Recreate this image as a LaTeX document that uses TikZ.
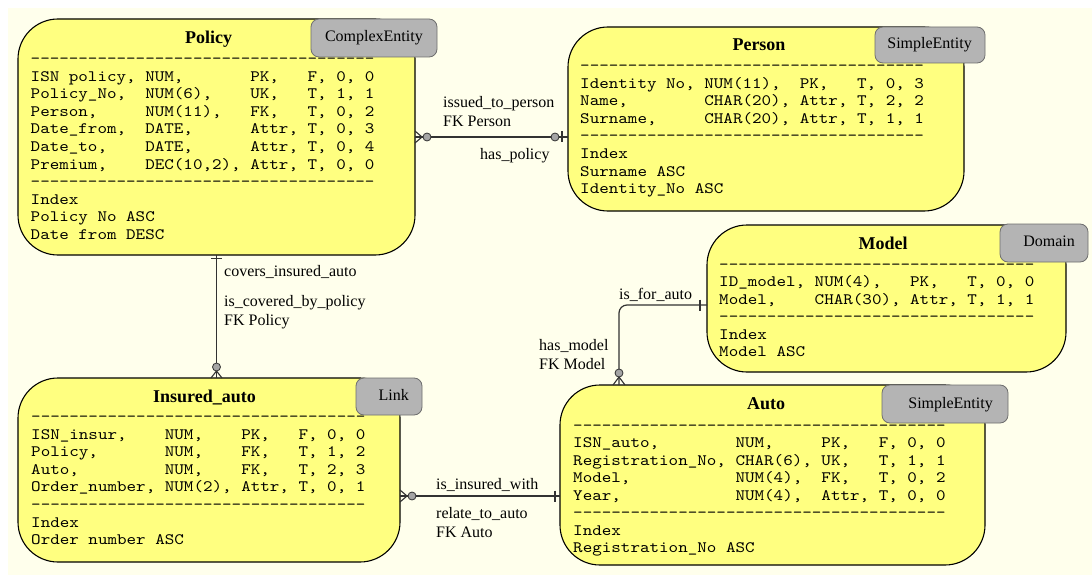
\documentclass[tikz,border=0pt]{standalone}
\usepackage{fontspec}
\setmainfont{Liberation Serif}
\newfontfamily\monof{lmmono10-regular.otf}[FakeStretch=1.144]
\definecolor{bgc}{RGB}{255,255,236}
\definecolor{boxc}{RGB}{255,255,128}
\definecolor{tagc}{RGB}{180,180,180}
\definecolor{tagb}{RGB}{110,110,110}
\definecolor{linec}{RGB}{50,50,50}
\definecolor{dotc}{RGB}{165,165,165}
\newcommand\dashrow[1]{\foreach\k in {1,...,#1}{-\kern0pt}}
\begin{document}
\begin{tikzpicture}[x=1pt,y=-1pt,
 entity/.style={draw=black, line width=1.1pt, fill=boxc, rounded corners=40pt, inner sep=0pt, outer sep=0pt},
 tagbox/.style={draw=tagb, line width=0.8pt, fill=tagc, rounded corners=8pt, inner sep=0pt, outer sep=0pt},
 title/.style={font=\fontsize{18}{20}\selectfont\bfseries, anchor=base, inner sep=0pt},
 tagtext/.style={font=\fontsize{16}{18}\selectfont, anchor=base east, inner sep=0pt},
 mono/.style={font=\monof\fontsize{15.9}{17.5}\selectfont\frenchspacing, anchor=base west, inner sep=0pt},
 lbl/.style={font=\fontsize{16}{18}\selectfont, anchor=base west, inner sep=0pt},
 conn/.style={draw=linec, line width=1.2pt},
 endmk/.style={draw=linec, line width=1.1pt},
 dot/.style={draw=linec, fill=dotc, line width=0.8pt}
]
\useasboundingbox (0,0) rectangle (1092,575);
\fill[bgc] (8,8) rectangle (1092,575);

% ---------- Policy ----------
\node[entity, minimum width=397pt, minimum height=236pt] (policy) at (216.5,137) {};
\node[title] (policyT) at (208.5,44) {Policy};
\node[mono] (pol0) at (30.5,64) {\dashrow{36}};
\node[mono] (pol1) at (30.5,81.5) {ISN~policy,~NUM,~~~~~~~PK,~~~F,~0,~0};
\node[mono] (pol2) at (30.5,99) {Policy\_No,~~NUM(6),~~~~UK,~~~T,~1,~1};
\node[mono] (pol3) at (30.5,116.5) {Person,~~~~~NUM(11),~~~FK,~~~T,~0,~2};
\node[mono] (pol4) at (30.5,134) {Date\_from,~~DATE,~~~~~~Attr,~T,~0,~3};
\node[mono] (pol5) at (30.5,151.5) {Date\_to,~~~~DATE,~~~~~~Attr,~T,~0,~4};
\node[mono] (pol6) at (30.5,169) {Premium,~~~~DEC(10,2),~Attr,~T,~0,~0};
\node[mono] (pol7) at (30.5,186.5) {\dashrow{36}};
\node[mono] (pol8) at (30.5,204) {Index};
\node[mono] (pol9) at (30.5,221.5) {Policy~No~ASC};
\node[mono] (pol10) at (30.5,239) {Date~from~DESC};
\node[tagbox, minimum width=126pt, minimum height=38pt] (policytag) at (374,38) {};
\node[tagtext] (policytagT) at (423,41.5) {ComplexEntity};

% ---------- Person ----------
\node[entity, minimum width=396pt, minimum height=184pt] (person) at (766,119) {};
\node[title] (personT) at (759,50.5) {Person};
\node[mono] (per0) at (580,71) {\dashrow{36}};
\node[mono] (per1) at (580,88.5) {Identity~No,~NUM(11),~~PK,~~~T,~0,~3};
\node[mono] (per2) at (580,106) {Name,~~~~~~~~CHAR(20),~Attr,~T,~2,~2};
\node[mono] (per3) at (580,123.5) {Surname,~~~~~CHAR(20),~Attr,~T,~1,~1};
\node[mono] (per4) at (580,141) {\dashrow{36}};
\node[mono] (per5) at (580,158.5) {Index};
\node[mono] (per6) at (580,176) {Surname~ASC};
\node[mono] (per7) at (580,193.5) {Identity\_No~ASC};
\node[tagbox, minimum width=110pt, minimum height=36pt] (persontag) at (930,45) {};
\node[tagtext] (persontagT) at (972,48.5) {SimpleEntity};

% ---------- Insured_auto ----------
\node[entity, minimum width=382pt, minimum height=184pt] (ins) at (209,470) {};
\node[title] (insT) at (204.5,402.5) {Insured\_auto};
\node[mono] (ins0) at (31,421.5) {\dashrow{35}};
\node[mono] (ins1) at (31,439.1) {ISN\_insur,~~~~NUM,~~~~PK,~~~F,~0,~0};
\node[mono] (ins2) at (31,456.7) {Policy,~~~~~~~NUM,~~~~FK,~~~T,~1,~2};
\node[mono] (ins3) at (31,474.3) {Auto,~~~~~~~~~NUM,~~~~FK,~~~T,~2,~3};
\node[mono] (ins4) at (31,491.9) {Order\_number,~NUM(2),~Attr,~T,~0,~1};
\node[mono] (ins5) at (31,509.5) {\dashrow{35}};
\node[mono] (ins6) at (31,527.1) {Index};
\node[mono] (ins7) at (31,544.7) {Order~number~ASC};
\node[tagbox, minimum width=66pt, minimum height=37pt] (instag) at (389,396.5) {};
\node[tagtext] (instagT) at (409,400.5) {Link};

% ---------- Model ----------
\node[entity, minimum width=359pt, minimum height=147pt] (model) at (886.5,298.5) {};
\node[title] (modelT) at (883,249) {Model};
\node[mono] (mod0) at (719,269) {\dashrow{33}};
\node[mono] (mod1) at (719,286.5) {ID\_model,~NUM(4),~~~PK,~~~T,~0,~0};
\node[mono] (mod2) at (719,304) {Model,~~~~CHAR(30),~Attr,~T,~1,~1};
\node[mono] (mod3) at (719,321.5) {\dashrow{33}};
\node[mono] (mod4) at (719,339) {Index};
\node[mono] (mod5) at (719,356.5) {Model~ASC};
\node[tagbox, minimum width=88pt, minimum height=38pt] (modeltag) at (1044,243) {};
\node[tagtext] (modeltagT) at (1075,246) {Domain};

% ---------- Auto ----------
\node[entity, minimum width=425pt, minimum height=180pt] (auto) at (772.5,475) {};
\node[title] (autoT) at (766,409) {Auto};
\node[mono] (aut0) at (573,430) {\dashrow{39}};
\node[mono] (aut1) at (573,447.5) {ISN\_auto,~~~~~~~~NUM,~~~~~PK,~~~F,~0,~0};
\node[mono] (aut2) at (573,465) {Registration\_No,~CHAR(6),~UK,~~~T,~1,~1};
\node[mono] (aut3) at (573,482.5) {Model,~~~~~~~~~~~NUM(4),~~FK,~~~T,~0,~2};
\node[mono] (aut4) at (573,500) {Year,~~~~~~~~~~~~NUM(4),~~Attr,~T,~0,~0};
\node[mono] (aut5) at (573,517.5) {\dashrow{39}};
\node[mono] (aut6) at (573,535) {Index};
\node[mono] (aut7) at (573,552.5) {Registration\_No~ASC};
\node[tagbox, minimum width=126pt, minimum height=38pt] (autotag) at (945,404) {};
\node[tagtext] (autotagT) at (993,408) {SimpleEntity};

% ---------- helper coordinates ----------
\coordinate (yA) at (0,496);
\coordinate (yM) at (0,305);
\coordinate (xM) at (619,0);

% ---------- connectors ----------
% Policy -- Person
\draw[conn] (policy.east) -- (person.west |- policy.east);
\draw[endmk] (415,131) -- (422,137) -- (415,143);
\draw[endmk] (562,131.5) -- (562,142.5);
\draw[dot] (427,137) circle (4pt);
\draw[dot] (555,137) circle (4pt);
% Policy -- Insured_auto
\draw[conn] (policy.south) -- (ins.north -| policy.south);
\draw[endmk] (211,258.5) -- (222,258.5);
\draw[endmk] (211,378) -- (216.5,371) -- (222,378);
\draw[dot] (216.5,367) circle (4pt);
% Insured_auto -- Auto
\draw[conn] (ins.east |- yA) -- (auto.west |- yA);
\draw[endmk] (400,490) -- (407,496) -- (400,502);
\draw[endmk] (555,490.5) -- (555,501.5);
\draw[dot] (412,496) circle (4pt);
% Model -- Auto
\draw[conn, rounded corners=8pt] (model.west |- yM) -| (auto.north -| xM);
\draw[endmk] (700,299.5) -- (700,310.5);
\draw[endmk] (613,385) -- (619,377) -- (625,385);
\draw[dot] (619,373) circle (4pt);

% ---------- labels ----------
\node[lbl] (l1) at (443,108) {issued\_to\_person};
\node[lbl] (l2) at (443,126.5) {FK Person};
\node[lbl] (l3) at (480,159) {has\_policy};
\node[lbl] (l4) at (224,276.5) {covers\_insured\_auto};
\node[lbl] (l5) at (224,306.5) {is\_covered\_by\_policy};
\node[lbl] (l6) at (224,325) {FK Policy};
\node[lbl] (l7) at (436,489) {is\_insured\_with};
\node[lbl] (l8) at (436,518.5) {relate\_to\_auto};
\node[lbl] (l9) at (436,537) {FK Auto};
\node[lbl] (l10) at (619,299) {is\_for\_auto};
\node[lbl] (l11) at (539,350) {has\_model};
\node[lbl] (l12) at (539,369) {FK Model};
\end{tikzpicture}
\end{document}
